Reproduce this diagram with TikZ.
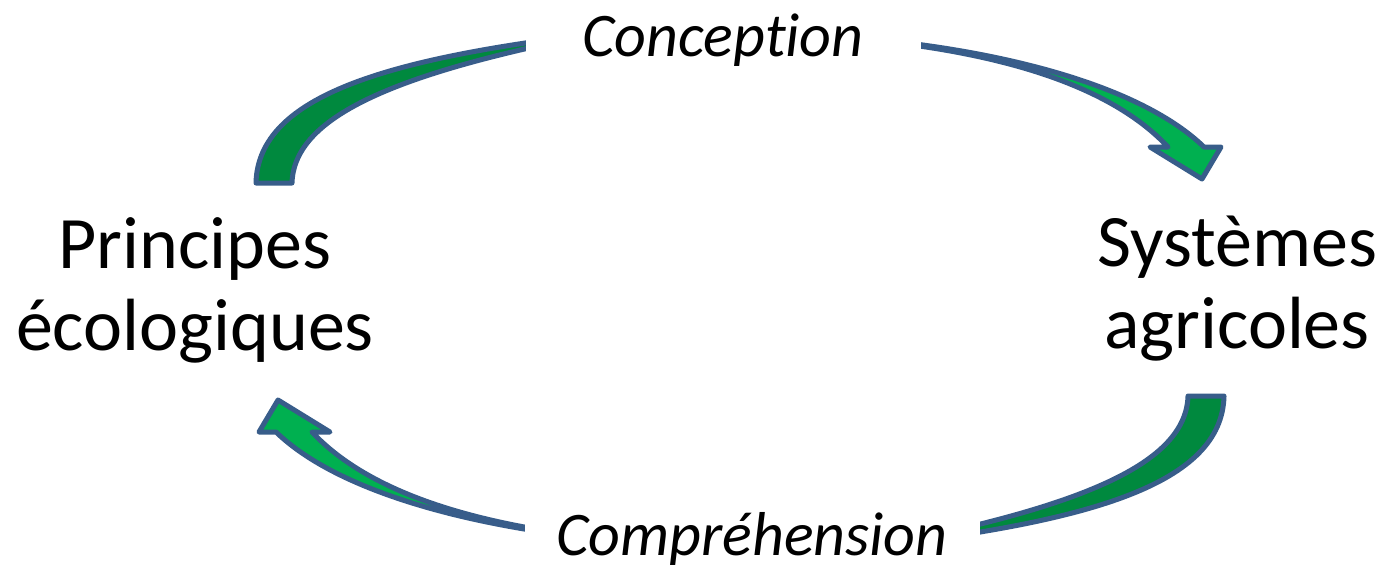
\documentclass[tikz,border=0pt]{standalone}
\usepackage{fontspec}
\setmainfont{Carlito}[RawFeature=-liga,RawFeature=-clig]
\definecolor{rim}{HTML}{385D8A}
\definecolor{greendark}{HTML}{00893E}
\definecolor{greenlight}{HTML}{00B050}
\begin{document}
\begin{tikzpicture}[x=0.5pt,y=-0.5pt,
  band/.style={draw=rim,line width=2.5pt,line join=round},
  backband/.style={band,fill=greendark},
  frontband/.style={band,fill=greenlight},
  pole/.style={font=\fontsize{37pt}{41pt}\selectfont,align=center,inner sep=0pt},
  verb/.style={font=\fontsize{31pt}{36pt}\selectfont\itshape,fill=white,inner sep=0pt}]
\useasboundingbox (0,0) rectangle (1385,575);
\fill[white] (0,0) rectangle (1385,575);
% two curved arrows: the lower one is the upper one turned half a turn
\foreach \ang in {0,180}{
  \begin{scope}[rotate around={\ang:(740,289.5)}]
    % back half of the curved band (tail)
    \draw[backband] (292,183) -- (256,183)
      .. controls (258,95) and (390,58) .. (600,33)
      .. controls (400,72) and (294,115) .. (292,183) -- cycle;
    % front half of the band with its head
    \draw[frontband] (860,38)
      .. controls (1000,50) and (1140,85) .. (1204,147)
      -- (1221,147) -- (1202,179) -- (1150,147) -- (1168,147)
      .. controls (1110,85) and (1000,52) .. (860,39) -- cycle;
  \end{scope}
}
\node[pole] (principes) at (195,290) {Principes\\écologiques};
\node[pole] (systemes) at (1237,289) {Systèmes\\agricoles};
\node[verb,minimum width=197.5pt,minimum height=40pt] (conception) at (723,40) {Conception};
\node[verb,minimum width=227.5pt,minimum height=45pt] (comprehension) at (752,539) {Compréhension};
\end{tikzpicture}
\end{document}
